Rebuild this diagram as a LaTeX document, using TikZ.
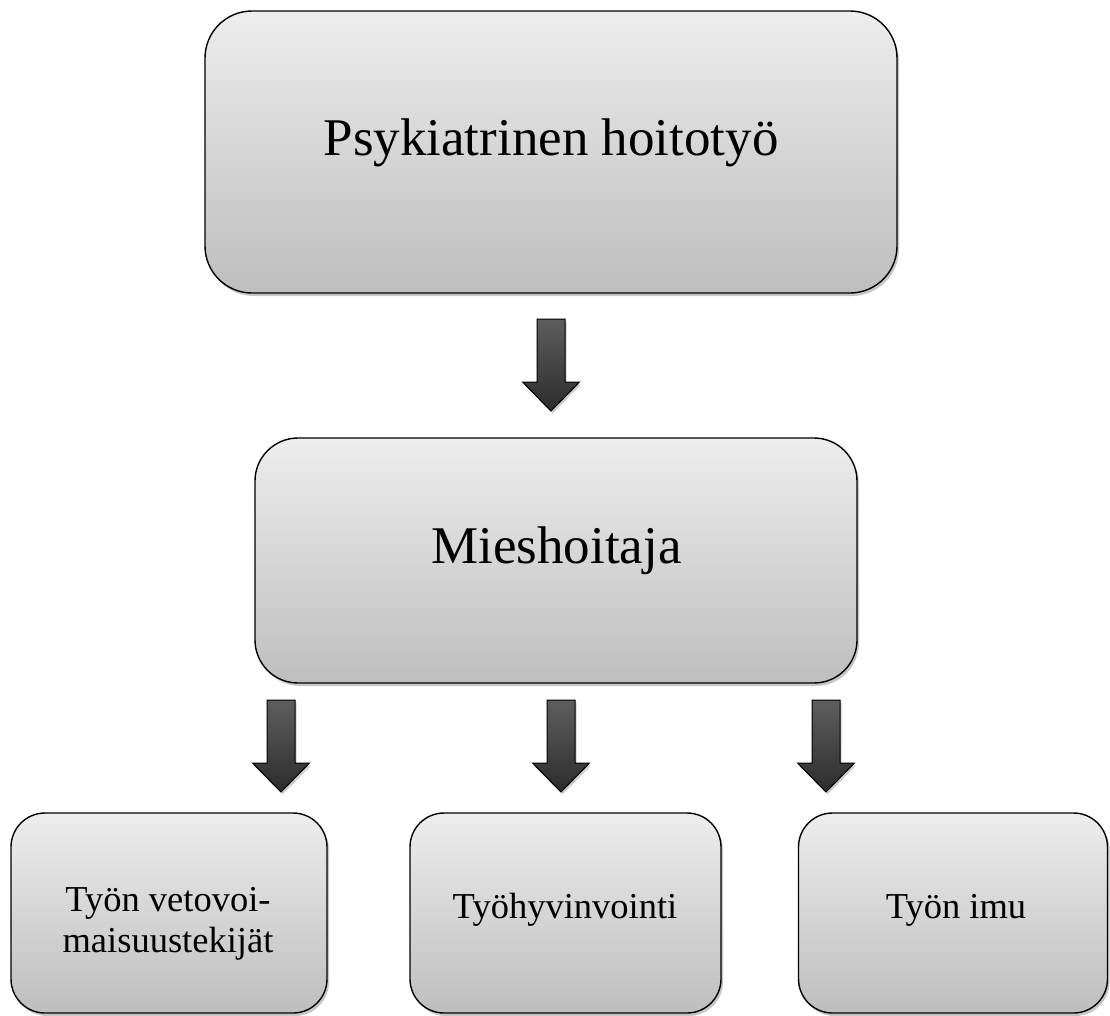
\documentclass[tikz,border=0pt]{standalone}
\usepackage{fontspec}
\setmainfont{Liberation Serif}
\usetikzlibrary{shadows}
\definecolor{boxtop}{HTML}{EDEDED}
\definecolor{boxbot}{HTML}{BEBEBE}
\definecolor{arrtop}{HTML}{5E5E5E}
\definecolor{arrbot}{HTML}{2C2C2C}
\begin{document}
\begin{tikzpicture}[x=1pt,y=-1pt,
  box/.style={draw=black, line width=1.4pt, rectangle, rounded corners=#1,
    inner sep=0pt, top color=boxtop, bottom color=boxbot,
    drop shadow={shadow xshift=2pt, shadow yshift=-3pt, opacity=0.22, fill=black}},
  bigtext/.style={anchor=base, inner sep=0pt, font=\fontsize{53}{60}\selectfont},
  smalltext/.style={anchor=base, inner sep=0pt, align=center, font=\fontsize{36.5}{41}\selectfont},
  blockarrow/.style={draw=black, line width=1pt, top color=arrtop, bottom color=arrbot,
    drop shadow={shadow xshift=1.5pt, shadow yshift=-2.5pt, opacity=0.2, fill=black}}
]
\useasboundingbox[fill=white] (0,0) rectangle (1110,1015);

% boxes
\node[box=47pt, minimum width=692pt, minimum height=282pt] (top) at (551,152) {};
\node[box=43pt, minimum width=602pt, minimum height=245pt] (mid) at (556,560.5) {};
\node[box=34pt, minimum width=316pt, minimum height=200pt] (b1) at (169,913) {};
\node[box=34pt, minimum width=311pt, minimum height=200pt] (b2) at (565.5,913) {};
\node[box=34pt, minimum width=309pt, minimum height=200pt] (b3) at (953,913) {};

% texts
\node[bigtext] (t0) at (551,155) {Psykiatrinen hoitotyö};
\node[bigtext] (t1) at (556.5,563) {Mieshoitaja};
\node[smalltext] (t2) at (168,952) {Työn vetovoi-\\maisuustekijät};
\node[smalltext] (t3) at (565,918) {Työhyvinvointi};
\node[smalltext] (t4) at (956,918) {Työn imu};

% block arrows (start points below the source box)
\coordinate (a0) at (551,319);
\coordinate (a1) at (281,700);
\coordinate (a2) at (561,700);
\coordinate (a3) at (826,700);
\foreach \c in {a0,a1,a2,a3}{
  \path[blockarrow] (\c) ++(-14,0) -- ++(28,0) -- ++(0,63) -- ++(14.5,0)
     -- ++(-28.5,29) -- ++(-28.5,-29) -- ++(14.5,0) -- cycle;
}
\end{tikzpicture}
\end{document}
